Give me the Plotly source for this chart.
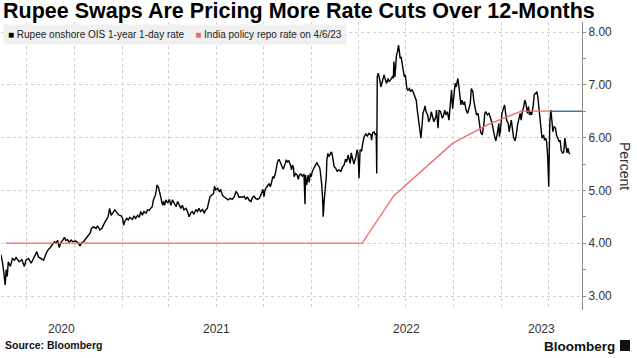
import plotly.graph_objects as go
import pandas as pd

# ---- data ----
ois_dates = [
 "2020-05-13","2020-05-16","2020-05-19","2020-05-21","2020-05-23","2020-05-25","2020-05-27","2020-05-31",
 "2020-06-04","2020-06-08","2020-06-11","2020-06-17","2020-06-22","2020-06-27","2020-06-30","2020-07-05",
 "2020-07-10","2020-07-13","2020-07-16","2020-07-21","2020-07-24","2020-07-29","2020-08-03","2020-08-08",
 "2020-08-12","2020-08-16","2020-08-20","2020-08-24","2020-08-27","2020-08-30","2020-09-02","2020-09-05",
 "2020-09-09","2020-09-12","2020-09-15","2020-09-18","2020-09-21","2020-09-25","2020-09-28","2020-10-04",
 "2020-10-09","2020-10-12","2020-10-15","2020-10-19","2020-10-22","2020-10-25","2020-10-28","2020-11-01",
 "2020-11-03","2020-11-07","2020-11-12","2020-11-15","2020-11-19","2020-11-23","2020-11-28","2020-12-03",
 "2020-12-05","2020-12-08","2020-12-11","2020-12-14","2020-12-18","2020-12-22","2020-12-26","2020-12-30",
 "2021-01-02","2021-01-04","2021-01-06","2021-01-10","2021-01-13","2021-01-16","2021-01-21","2021-01-24",
 "2021-01-27","2021-01-31","2021-02-03","2021-02-06","2021-02-09","2021-02-12","2021-02-16","2021-02-19",
 "2021-02-22","2021-02-25","2021-02-28","2021-03-02","2021-03-04","2021-03-06","2021-03-08","2021-03-09",
 "2021-03-12","2021-03-14","2021-03-15","2021-03-18","2021-03-20","2021-03-22","2021-03-24","2021-03-26",
 "2021-03-30","2021-04-02","2021-04-05","2021-04-08","2021-04-11","2021-04-15","2021-04-18","2021-04-21",
 "2021-04-24","2021-04-27","2021-04-30","2021-05-04","2021-05-07","2021-05-10","2021-05-13","2021-05-16",
 "2021-05-19","2021-05-23","2021-05-26","2021-05-29","2021-06-01","2021-06-05","2021-06-08","2021-06-11",
 "2021-06-14","2021-06-17","2021-06-19","2021-06-22","2021-06-26","2021-06-28","2021-06-30","2021-07-04",
 "2021-07-07","2021-07-10","2021-07-13","2021-07-16","2021-07-21","2021-07-24","2021-07-28","2021-08-01",
 "2021-08-05","2021-08-08","2021-08-11","2021-08-14","2021-08-17","2021-08-21","2021-08-24","2021-08-27",
 "2021-08-30","2021-09-02","2021-09-06","2021-09-09","2021-09-12","2021-09-15","2021-09-19","2021-09-22",
 "2021-09-25","2021-09-27","2021-09-29","2021-10-01","2021-10-03","2021-10-06","2021-10-09","2021-10-11",
 "2021-10-13","2021-10-15","2021-10-18","2021-10-20","2021-10-23","2021-10-25","2021-10-27","2021-10-30",
 "2021-11-02","2021-11-05","2021-11-07","2021-11-10","2021-11-13","2021-11-15","2021-11-18","2021-11-22",
 "2021-11-23","2021-11-25","2021-11-27","2021-11-28","2021-12-01","2021-12-04","2021-12-06","2021-12-08",
 "2021-12-11","2021-12-14","2021-12-17","2021-12-19","2021-12-20","2021-12-22","2021-12-25","2021-12-27",
 "2021-12-29","2021-12-31","2022-01-02","2022-01-05","2022-01-09","2022-01-11","2022-01-13","2022-01-16",
 "2022-01-17","2022-01-20","2022-01-22","2022-01-23","2022-01-25","2022-01-27","2022-01-29","2022-01-30",
 "2022-02-01","2022-02-03","2022-02-05","2022-02-08","2022-02-10","2022-02-13","2022-02-16","2022-02-19",
 "2022-02-22","2022-02-26","2022-03-01","2022-03-04","2022-03-07","2022-03-09","2022-03-12","2022-03-14",
 "2022-03-16","2022-03-18","2022-03-21","2022-03-23","2022-03-27","2022-03-29","2022-03-31","2022-04-02",
 "2022-04-04","2022-04-07","2022-04-09","2022-04-12","2022-04-15","2022-04-18","2022-04-21","2022-04-25",
 "2022-04-26","2022-04-28","2022-05-01","2022-05-03","2022-05-05","2022-05-06","2022-05-07","2022-05-09",
 "2022-05-12","2022-05-14","2022-05-16","2022-05-18","2022-05-20","2022-05-23","2022-05-25","2022-05-28",
 "2022-05-30","2022-06-02","2022-06-05","2022-06-07","2022-06-08","2022-06-10","2022-06-12","2022-06-13",
 "2022-06-15","2022-06-17","2022-06-19","2022-06-20","2022-06-22","2022-06-24","2022-06-26","2022-06-28",
 "2022-06-30","2022-07-01","2022-07-03","2022-07-05","2022-07-08","2022-07-10","2022-07-13","2022-07-16",
 "2022-07-18","2022-07-21","2022-07-23","2022-07-25","2022-07-27","2022-07-30","2022-08-01","2022-08-03",
 "2022-08-05","2022-08-07","2022-08-09","2022-08-12","2022-08-14","2022-08-17","2022-08-19","2022-08-22",
 "2022-08-24","2022-08-28","2022-08-29","2022-09-01","2022-09-03","2022-09-06","2022-09-09","2022-09-11",
 "2022-09-14","2022-09-16","2022-09-19","2022-09-22","2022-09-23","2022-09-25","2022-09-27","2022-09-29",
 "2022-10-01","2022-10-04","2022-10-06","2022-10-09","2022-10-11","2022-10-13","2022-10-15","2022-10-17",
 "2022-10-20","2022-10-22","2022-10-25","2022-10-28","2022-10-30","2022-11-02","2022-11-04","2022-11-07",
 "2022-11-09","2022-11-12","2022-11-14","2022-11-17","2022-11-19","2022-11-22","2022-11-25","2022-11-28",
 "2022-11-30","2022-12-02","2022-12-05","2022-12-08","2022-12-10","2022-12-12","2022-12-14","2022-12-17",
 "2022-12-19","2022-12-21","2022-12-23","2022-12-25","2022-12-27","2022-12-28","2022-12-30","2023-01-02",
 "2023-01-05","2023-01-07","2023-01-09","2023-01-11","2023-01-14","2023-01-16","2023-01-17","2023-01-20",
 "2023-01-22","2023-01-24","2023-01-27","2023-01-29","2023-02-01","2023-02-03","2023-02-06","2023-02-08",
 "2023-02-10","2023-02-13","2023-02-15","2023-02-17","2023-02-20","2023-02-22","2023-02-24","2023-02-26",
 "2023-02-28","2023-03-03","2023-03-05","2023-03-08","2023-03-10","2023-03-12","2023-03-14","2023-03-16",
 "2023-03-18","2023-03-20","2023-03-23","2023-03-25","2023-03-27","2023-03-29","2023-03-31","2023-04-02",
 "2023-04-04","2023-04-06","2023-04-08","2023-04-10","2023-04-12","2023-04-15","2023-04-17","2023-04-20",
 "2023-04-22","2023-04-24","2023-04-26","2023-04-29","2023-05-01","2023-05-03","2023-05-05","2023-05-07",
 "2023-05-09","2023-05-11","2023-05-13"]
ois_values = [
 3.78,3.63,3.40,3.21,3.50,3.37,3.65,3.56,
 3.71,3.68,3.73,3.65,3.69,3.56,3.68,3.71,
 3.62,3.68,3.73,3.84,3.74,3.71,3.68,3.81,
 3.88,3.92,3.97,4.03,4.00,4.06,3.92,4.01,
 4.06,4.11,4.05,4.07,4.02,4.06,4.03,4.04,
 4.00,3.95,4.01,4.03,4.07,4.11,4.14,4.20,
 4.28,4.31,4.28,4.33,4.25,4.28,4.38,4.47,
 4.50,4.66,4.53,4.57,4.63,4.58,4.53,4.52,
 4.47,4.34,4.41,4.47,4.44,4.49,4.45,4.52,
 4.47,4.53,4.49,4.60,4.53,4.60,4.57,4.63,
 4.62,4.66,4.69,4.81,4.85,4.91,5.01,5.10,
 5.06,4.98,4.91,4.82,4.72,4.79,4.72,4.82,
 4.76,4.83,4.72,4.82,4.76,4.69,4.79,4.72,
 4.66,4.72,4.63,4.66,4.60,4.50,4.57,4.60,
 4.55,4.64,4.60,4.66,4.60,4.64,4.57,4.63,
 4.66,4.79,4.88,4.91,4.94,5.08,5.01,5.04,
 4.98,5.01,4.91,4.88,4.85,4.82,4.85,4.83,
 4.88,4.98,4.94,4.87,4.88,4.87,4.89,4.83,
 4.88,4.82,4.79,4.87,4.89,4.85,4.83,4.85,
 4.91,4.98,5.02,4.88,5.01,5.06,5.10,5.13,
 5.07,5.12,5.26,5.23,5.32,5.45,5.54,5.59,
 5.51,5.44,5.40,5.48,5.58,5.54,5.56,5.45,
 5.39,5.48,5.42,5.26,5.32,5.29,5.21,5.29,
 5.31,5.27,5.31,4.74,5.29,5.10,5.29,5.15,
 5.32,5.26,5.36,5.42,5.48,5.53,5.48,5.44,
 5.39,5.13,4.82,4.50,4.82,5.04,5.26,5.58,
 5.70,5.64,5.69,5.73,5.64,5.45,5.42,5.36,
 5.39,5.36,5.44,5.48,5.59,5.54,5.67,5.58,
 5.51,5.71,5.58,5.50,5.64,5.77,5.70,5.23,
 5.77,5.75,5.89,6.02,6.07,6.03,6.08,6.05,
 5.95,6.09,6.11,6.05,6.08,5.32,7.15,7.22,
 7.09,6.96,7.03,7.15,7.19,7.09,7.03,7.12,
 7.06,7.10,7.15,7.12,7.44,7.15,7.50,7.56,
 7.63,7.75,7.60,7.50,7.53,7.41,7.31,7.15,
 7.19,7.06,6.93,6.90,6.93,6.87,6.91,6.84,
 6.78,6.71,6.52,6.33,6.14,5.99,6.21,6.46,
 6.52,6.60,6.49,6.43,6.30,6.37,6.49,6.33,
 6.30,6.40,6.52,6.18,6.52,6.49,6.37,6.40,
 6.52,6.43,6.49,6.33,6.46,6.71,6.90,6.55,
 6.71,7.03,6.96,7.12,6.98,6.78,6.62,6.71,
 6.62,6.68,6.52,6.46,6.52,6.65,6.93,6.87,
 6.68,6.52,6.43,6.46,6.33,6.10,6.05,6.24,
 6.46,6.49,6.43,6.46,6.40,6.35,6.27,6.11,
 5.99,5.94,6.02,6.21,6.27,6.02,6.14,6.46,
 6.55,6.62,6.46,6.33,6.27,6.11,6.18,6.33,
 6.18,6.02,5.94,6.02,6.24,6.33,6.46,6.33,
 6.49,6.59,6.71,6.65,6.46,6.59,6.43,6.49,
 6.43,6.59,6.81,6.84,6.87,6.77,6.55,6.33,
 6.11,5.99,6.05,5.95,5.99,5.92,5.64,5.07,
 6.27,6.52,6.33,6.11,6.21,6.18,6.05,5.99,
 5.92,5.95,5.76,5.70,5.73,5.99,5.80,5.71,
 5.80,5.71,5.69]

repo_dates = ["2020-05-22","2020-08-06","2020-10-09","2020-12-04","2021-02-05","2021-04-07",
              "2021-06-04","2021-08-06","2021-10-08","2021-12-08","2022-02-10","2022-04-08",
              "2022-06-08","2022-08-05","2022-09-30","2022-12-07","2023-02-08","2023-04-06"]
repo_values = [4.00,4.00,4.00,4.00,4.00,4.00,4.00,4.00,4.00,4.00,4.00,4.00,
               4.90,5.40,5.90,6.25,6.50,6.50]

ext_dates = ["2023-04-06","2023-06-05"]
ext_values = [6.50,6.50]

year_labels = ["2020","2021","2022","2023"]
y_ticks = [3,4,5,6,7,8]

x_range = ["2020-05-13","2023-06-05"]
y_range = [2.735, 8.19]

# ---- layout helpers ----
W, H = 637, 358
ML, MR, MT, MB = 1, 55, 22, 48
PW, PH = W - ML - MR, H - MT - MB
def px(x):  # pixel -> paper x
    return (x - ML) / PW
def py(y):  # pixel -> paper y
    return (H - MB - y) / PH

FONT = "Liberation Sans"
fig = go.Figure()
fig.add_trace(go.Scatter(x=ois_dates, y=ois_values, mode="lines",
                         line=dict(color="#000000", width=1.4), showlegend=False))
fig.add_trace(go.Scatter(x=repo_dates, y=repo_values, mode="lines",
                         line=dict(color="#f26b6b", width=1.3), showlegend=False))
fig.add_trace(go.Scatter(x=ext_dates, y=ext_values, mode="lines",
                         line=dict(color="#2b5ca8", width=1.3), showlegend=False))

# year labels centred in each (visible) year
r0, r1 = pd.Timestamp(x_range[0]), pd.Timestamp(x_range[1])
annotations = []
for yl in year_labels:
    a = max(r0, pd.Timestamp(f"{yl}-01-01"))
    b = min(r1, pd.Timestamp(f"{int(yl)+1}-01-01"))
    mid = a + (b - a) / 2
    annotations.append(dict(x=mid.strftime("%Y-%m-%d"), xref="x", y=py(329), yref="paper",
                            text=yl, showarrow=False, xanchor="center", yanchor="middle",
                            font=dict(family=FONT, size=12, color="#333333")))

annotations.append(dict(
    x=px(3), y=py(24), xref="paper", yref="paper", xanchor="left", yanchor="top",
    text=("<span style='color:#000000'>■</span> Rupee onshore OIS 1-year 1-day rate"
          "&nbsp;&nbsp;&nbsp;&nbsp;<span style='color:#f26b6b'>■</span> India policy repo rate on 4/6/23"),
    showarrow=False, bgcolor="#f0f0f0", borderpad=4,
    font=dict(family=FONT, size=10, color="#222222")))
annotations.append(dict(x=px(625), y=py(166), xref="paper", yref="paper", text="Percent",
                        textangle=90, showarrow=False, xanchor="center", yanchor="middle",
                        font=dict(family=FONT, size=14, color="#333333")))
annotations.append(dict(x=px(3), y=py(345), xref="paper", yref="paper", text="<b>Source: Bloomberg</b>",
                        showarrow=False, xanchor="left", yanchor="middle",
                        font=dict(family=FONT, size=10.5, color="#111111")))
annotations.append(dict(x=px(617), y=py(346), xref="paper", yref="paper", text="<b>Bloomberg</b>",
                        showarrow=False, xanchor="right", yanchor="middle",
                        font=dict(family=FONT, size=13.5, color="#111111")))

fig.update_layout(
    width=W, height=H,
    margin=dict(l=ML, r=MR, t=MT, b=MB),
    paper_bgcolor="white", plot_bgcolor="white",
    title=dict(text="Rupee Swaps Are Pricing More Rate Cuts Over 12-Months",
               x=3 / W, xanchor="left", xref="container",
               y=1 - 10.5 / H, yanchor="middle", yref="container",
               font=dict(family=FONT, size=21.5, color="#000000", weight="bold")),
    annotations=annotations,
    shapes=[dict(type="rect", xref="paper", yref="paper",
                 x0=px(620), x1=px(630), y0=py(351), y1=py(340),
                 fillcolor="#111111", line=dict(width=0))],
    xaxis=dict(type="date", range=x_range, showticklabels=False, ticks="",
               dtick="M3", tick0="2020-01-01",
               showgrid=True, gridcolor="#cfcfcf", griddash="dot", gridwidth=1,
               showline=False, zeroline=False),
    yaxis=dict(side="right", range=y_range, tickvals=y_ticks, tickformat=".2f",
               showgrid=True, gridcolor="#cfcfcf", griddash="dot", gridwidth=1,
               showline=True, linecolor="#8a8a8a", linewidth=1,
               ticks="outside", ticklen=3, tickcolor="#8a8a8a",
               minor=dict(dtick=0.5, tick0=0, ticks="outside", ticklen=3, tickcolor="#8a8a8a", showgrid=False),
               tickfont=dict(family=FONT, size=12, color="#333333"),
               zeroline=False, automargin=False),
)
fig.write_html("out.html", config={"displayModeBar": False},
               post_script="document.body.style.margin='0';document.body.style.overflow='hidden';")
